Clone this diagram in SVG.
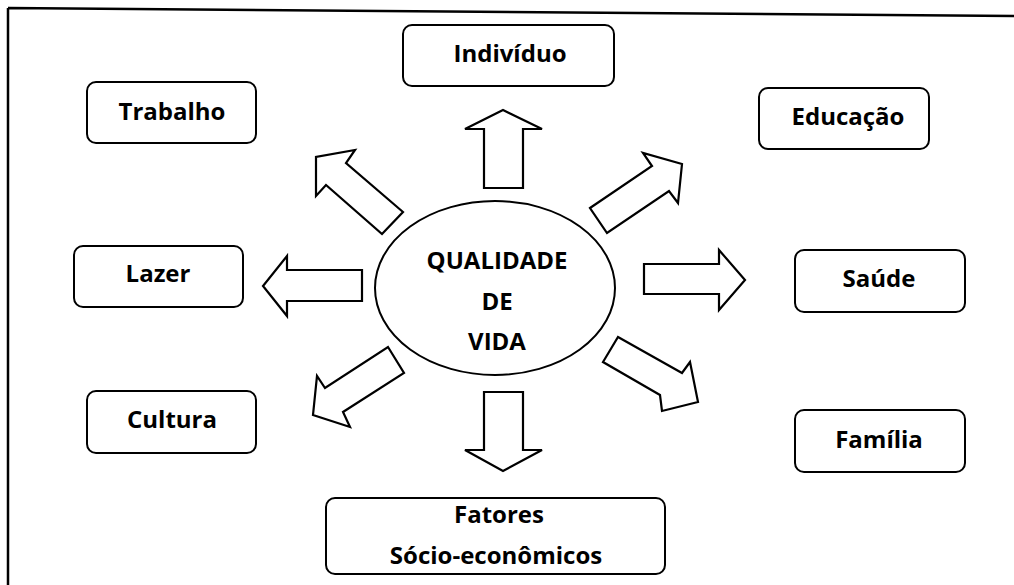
<svg xmlns="http://www.w3.org/2000/svg" width="1014" height="585" viewBox="0 0 1014 585">
<style>
.box{fill:#fff;stroke:#000;stroke-width:2}
.arr{fill:#fff;stroke:#000;stroke-width:2.2;stroke-linejoin:miter}
.t{font-family:"Open Sans","Liberation Sans",sans-serif;font-weight:700;font-size:24px;fill:#000;text-anchor:middle}
</style>
<rect width="1014" height="585" fill="#fff"/>
<path d="M8,8 L1014,16 M8,8 L8,585" stroke="#000" stroke-width="2.5" fill="none"/>
<g id="connectors">
<polygon class="arr" points="484,188 484,129 465,129 503,110 542,129 523,129 523,188"/>
<polygon class="arr" points="484,392 523,392 523,450 542,450 503,471 465,450 484,450"/>
<polygon class="arr" points="362,270 287,270 287,256 263,286 287,316 287,301 362,301"/>
<polygon class="arr" points="644,264 719,264 719,250 745,280 719,310 719,294 644,294"/>
<polygon class="arr" points="403,212 346,163 355,150 316,157 316,196 326,185 382,234"/>
<polygon class="arr" points="590,208 652,166 643,153 682,164 678,203 669,191 607,233"/>
<polygon class="arr" points="388,347 404,373 343,412 350,427 313,415 317,376 325,388"/>
<polygon class="arr" points="618,337 682,373 690,362 698,402 662,411 660,395 603,362"/>
</g>
<g id="center">
<ellipse cx="495" cy="288" rx="120" ry="87" fill="#fff" stroke="#000" stroke-width="2"/>
<text class="t" x="497" y="269">QUALIDADE</text>
<text class="t" x="497" y="310">DE</text>
<text class="t" x="497" y="350">VIDA</text>
</g>
<g id="individuo"><rect class="box" x="403" y="25" width="211" height="61" rx="9"/><text class="t" x="510" y="62">Indivíduo</text></g>
<g id="trabalho"><rect class="box" x="87" y="82" width="169" height="61" rx="9"/><text class="t" x="172" y="120">Trabalho</text></g>
<g id="educacao"><rect class="box" x="759" y="88" width="170" height="61" rx="9"/><text class="t" x="848" y="125">Educação</text></g>
<g id="lazer"><rect class="box" x="74" y="246" width="169" height="61" rx="9"/><text class="t" x="158" y="282">Lazer</text></g>
<g id="saude"><rect class="box" x="795" y="250" width="170" height="62" rx="9"/><text class="t" x="879" y="287">Saúde</text></g>
<g id="cultura"><rect class="box" x="87" y="391" width="169" height="62" rx="9"/><text class="t" x="172" y="428">Cultura</text></g>
<g id="familia"><rect class="box" x="795" y="410" width="170" height="62" rx="9"/><text class="t" x="879" y="448">Família</text></g>
<g id="fatores"><rect class="box" x="326" y="498" width="339" height="76" rx="9"/><text class="t" x="499" y="523">Fatores</text><text class="t" x="496" y="564">Sócio-econômicos</text></g>
</svg>
